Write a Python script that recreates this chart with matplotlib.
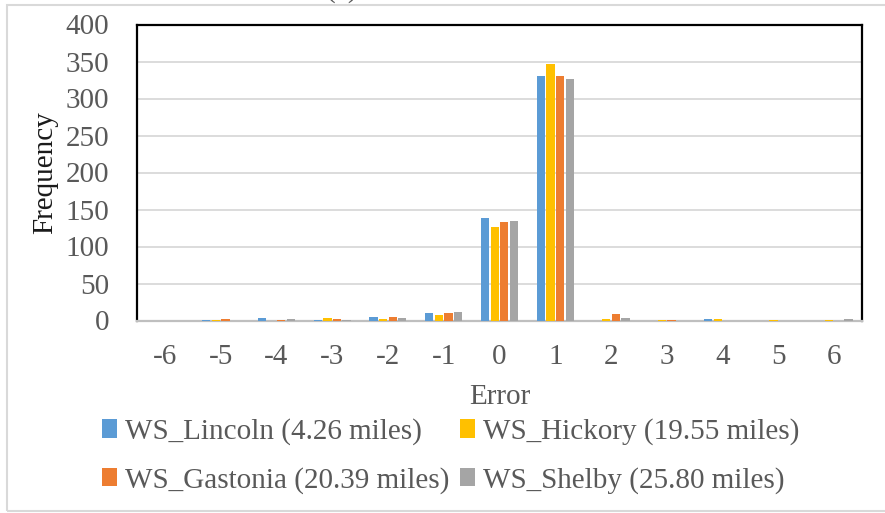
import matplotlib
matplotlib.use("Agg")
import matplotlib.pyplot as plt
import numpy as np
from matplotlib.patches import Rectangle

categories = ['-6', '-5', '-4', '-3', '-2', '-1', '0', '1', '2', '3', '4', '5', '6']
series_names = ['WS_Lincoln (4.26 miles)', 'WS_Hickory (19.55 miles)',
                'WS_Gastonia (20.39 miles)', 'WS_Shelby (25.80 miles)']
lincoln = [0, 1, 3, 1, 5, 10, 138, 330, 0, 0, 2, 0, 0]
hickory = [0, 1, 0, 3, 2, 8, 126, 346, 2, 1, 2, 1, 1]
gastonia = [0, 2, 1, 2, 5, 10, 133, 331, 9, 1, 0, 0, 0]
shelby = [0, 0, 2, 1, 4, 11, 135, 327, 3, 0, 0, 0, 2]
yticks = [0, 50, 100, 150, 200, 250, 300, 350, 400]

colors = ['#5B9BD5', '#FFC000', '#ED7D31', '#A5A5A5']
series = [lincoln, hickory, gastonia, shelby]

plt.rcParams['font.family'] = ['Liberation Serif', 'DejaVu Serif']
FS = 21
W, H = 885, 513
fig = plt.figure(figsize=(W / 100, H / 100), dpi=100)
ax = fig.add_axes([137 / W, 1 - 320.5 / H, (862 - 137) / W, (320.5 - 24.5) / H])

x = np.arange(len(categories))
slot = 0.172
bw = 0.148
handles = []
for i, (vals, c) in enumerate(zip(series, colors)):
    b = ax.bar(x + (i - 1.5) * slot, vals, width=bw, color=c, zorder=3,
               label=series_names[i])
    handles.append(b)

ax.set_xlim(-0.5, len(categories) - 0.5)
ax.set_ylim(0, 400)
ax.set_yticks(yticks)
ax.set_xticks(x)
ax.set_xticklabels(categories)
ax.grid(axis='y', color='#D9D9D9', linewidth=1.3, zorder=0)
ax.set_axisbelow(True)

tc = '#595959'
ax.tick_params(axis='both', length=0, labelsize=FS, labelcolor=tc)
ax.tick_params(axis='x', pad=17)
ax.tick_params(axis='y', pad=20)

for s in ['left', 'top', 'right']:
    ax.spines[s].set_color('black')
    ax.spines[s].set_linewidth(1.6)
ax.spines['bottom'].set_color('#BFBFBF')
ax.spines['bottom'].set_linewidth(1.6)

ax.set_xlabel('Error', fontsize=FS, color=tc)
ax.xaxis.set_label_coords(0.5, (320.5 - 397) / 296)
ax.xaxis.label.set_va('center')
ax.set_ylabel('Frequency', fontsize=FS, color='#1a1a1a')
ax.yaxis.set_label_coords((45 - 137) / 725, 0.5)
ax.yaxis.label.set_va('center')

order = [0, 2, 1, 3]
leg = fig.legend([handles[k] for k in order], [series_names[k] for k in order],
                 ncol=2, loc='upper left', bbox_to_anchor=(102 / W, 1 - 418 / H),
                 frameon=False, fontsize=FS, handlelength=0.52, handleheight=0.6,
                 handletextpad=0.28, columnspacing=0.35, labelspacing=0.75,
                 borderaxespad=0, borderpad=0)
for t in leg.get_texts():
    t.set_color(tc)

fig.text(342 / W, 1 + 3 / H, '(a)', ha='center', va='baseline', fontsize=FS, color=tc)

border = Rectangle((6.5 / W, 1 - 511 / H), 1.2, (511 - 4.7) / H, transform=fig.transFigure,
                   fill=False, edgecolor='#D9D9D9', linewidth=1.5, clip_on=False)
fig.patches.append(border)

fig.savefig('out.png', dpi=100)
